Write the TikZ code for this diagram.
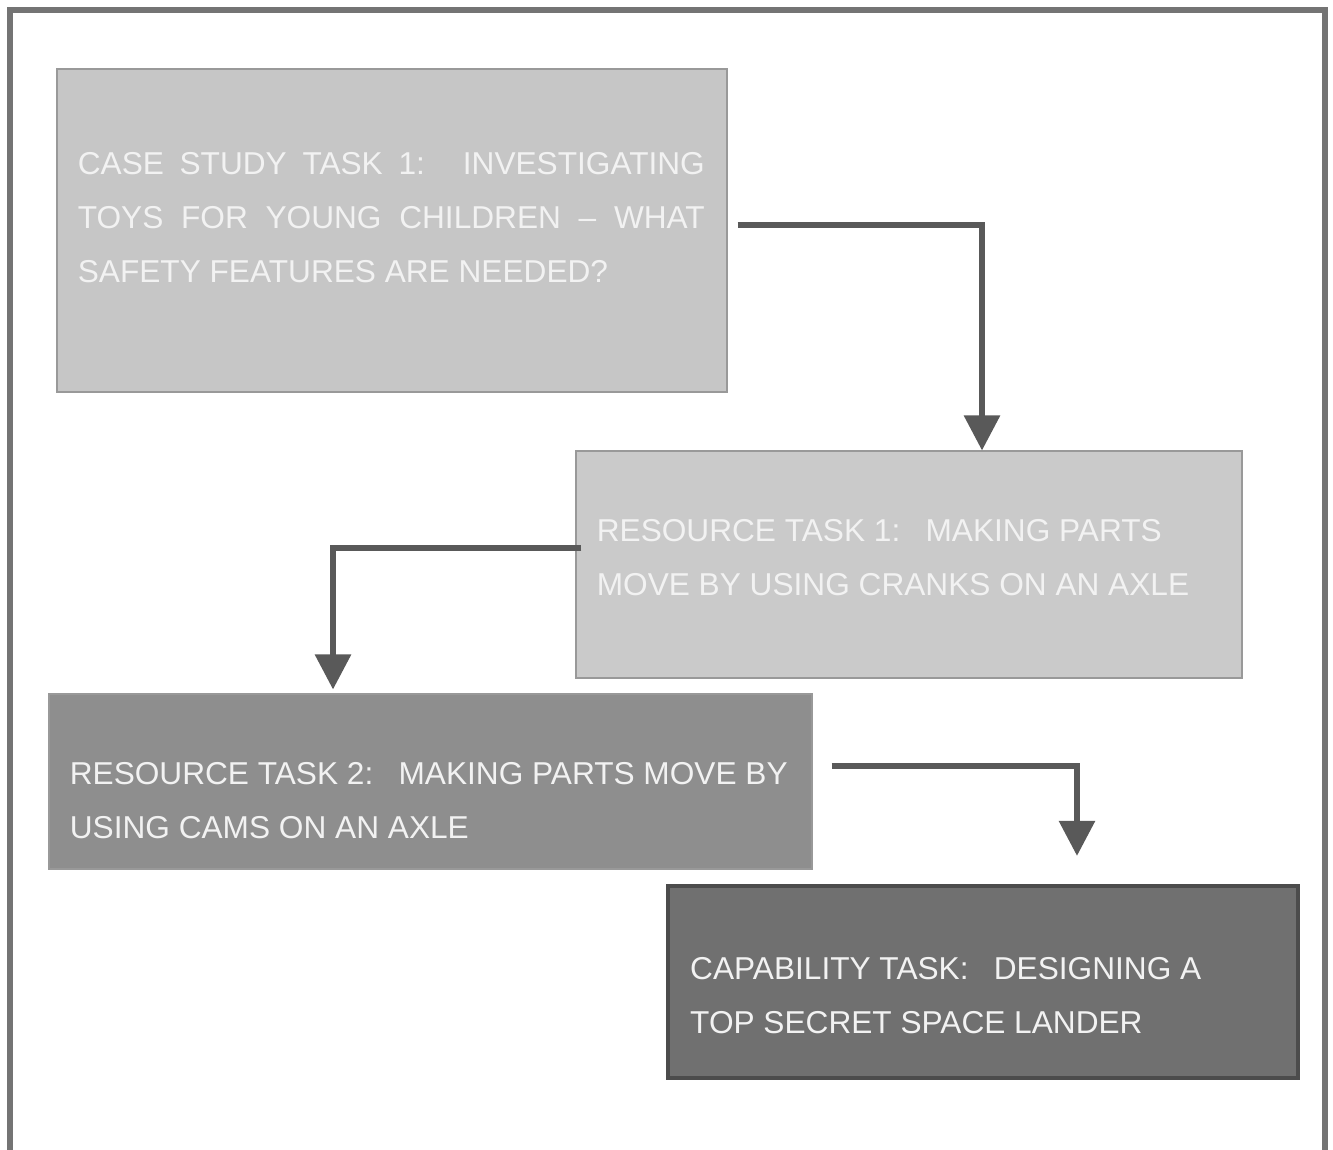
\documentclass[tikz,border=0pt]{standalone}
\usepackage{fontspec}
\setmainfont{Liberation Sans}
\usetikzlibrary{positioning, arrows.meta, calc}
\definecolor{frame}{HTML}{747474}
\definecolor{wire}{HTML}{595959}
\definecolor{paleA}{HTML}{c6c6c6}
\definecolor{paleB}{HTML}{cacaca}
\definecolor{midgray}{HTML}{8e8e8e}
\definecolor{darkgray}{HTML}{707070}
\definecolor{caption}{HTML}{f2f2f2}

\begin{document}
\begin{tikzpicture}[
    taskbox/.style={draw=gray!80, line width=0.6pt, inner sep=0pt},
    tasktext/.style={anchor=north west, inner sep=0pt, align=left, text=caption,
                     font=\fontsize{18pt}{30.6pt}\selectfont},
    flow/.style={wire, line width=3.4pt, -{Triangle[width=0.7cm, length=0.7cm]}}
  ]
  \useasboundingbox (0,0) rectangle (26.66,-23);

  % Frame
  \draw[frame, line width=3pt] (0.2,-23.1) -- (0.2,-0.2) -- (26.5,-0.2) -- (26.5,-23.1);

  % Boxes
  \node[taskbox, fill=paleA, minimum width=13.4cm, minimum height=6.46cm] (b1) at (7.84,-4.61) {};
  \node[taskbox, fill=paleB, minimum width=13.32cm, minimum height=4.54cm] (b2) at (18.18,-11.29) {};
  \node[taskbox, fill=midgray, minimum width=15.26cm, minimum height=3.5cm] (b3) at (8.61,-15.63) {};
  \node[taskbox, draw=gray!60!black, line width=2.4pt, fill=darkgray,
        minimum width=12.6cm, minimum height=3.84cm] (b4) at (19.66,-19.64) {};

  % Texts
  \node[tasktext] (t1) at ([shift={(0.42,-1.68)}]b1.north west)
    {\makebox[12.54cm][s]{CASE STUDY TASK 1:\hspace{1.2em}INVESTIGATING}\\
     \makebox[12.54cm][s]{TOYS FOR YOUNG CHILDREN -- WHAT}\\
     SAFETY FEATURES ARE NEEDED?};
  \node[tasktext] (t2) at ([shift={(0.42,-1.38)}]b2.north west)
    {RESOURCE TASK 1:\hspace{0.8em}MAKING PARTS\\
     MOVE BY USING CRANKS ON AN AXLE};
  \node[tasktext] (t3) at ([shift={(0.42,-1.38)}]b3.north west)
    {RESOURCE TASK 2:\hspace{0.8em}MAKING PARTS MOVE BY\\
     USING CAMS ON AN AXLE};
  \node[tasktext] (t4) at ([shift={(0.48,-1.46)}]b4.north west)
    {CAPABILITY TASK:\hspace{0.8em}DESIGNING A\\
     TOP SECRET SPACE LANDER};

  % Arrows
  \coordinate (a1) at ([shift={(0.2,0.11)}]b1.east);
  \coordinate (a1e) at ([xshift=1.46cm]b2.north);
  \draw[flow] (a1) -| (a1e);
  \coordinate (a2) at ([shift={(0.12,0.33)}]b2.west);
  \coordinate (a2e) at ([shift={(-1.95,0.08)}]b3.north);
  \draw[flow] (a2) -| (a2e);
  \coordinate (a3) at ([shift={(0.38,0.31)}]b3.east);
  \coordinate (a3e) at ([shift={(1.88,0.56)}]b4.north);
  \draw[flow] (a3) -| (a3e);
\end{tikzpicture}
\end{document}
